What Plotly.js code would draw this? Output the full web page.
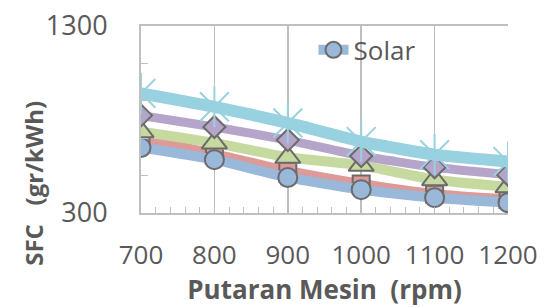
<!DOCTYPE html>
<html>
<head>
<meta charset="utf-8">
<script src="https://cdn.plot.ly/plotly-3.0.1.min.js"></script>
<style>html,body{margin:0;padding:0;background:#fff}#chart{width:552px;height:307px}</style>
</head>
<body>
<div id="chart"></div>
<script>
const rpm = [700, 800, 900, 1000, 1100, 1200];
const solar = [650, 585, 490, 425, 382, 355];
const seriesRed = [700, 615, 525, 455, 400, 372];
const seriesGreen = [735, 675, 598, 555, 478, 440];
const seriesPurple = [822, 760, 690, 605, 545, 505];
const seriesCyan = [940, 868, 782, 682, 612, 575];
const yTickVals = [300, 500, 700, 900, 1100, 1300];
const yTickText = ['300', '', '', '', '', '1300'];

const gray = '#6b6b6b';
function tr(name, y, color, lw, symbol, msize, mcolor, mline, showLegend) {
  return {
    x: rpm, y: y, name: name, type: 'scatter', mode: 'lines+markers',
    line: {color: color, width: lw, shape: 'spline', smoothing: 0.5},
    marker: {symbol: symbol, size: msize, color: mcolor, line: {color: mline, width: 2}},
    showlegend: showLegend, hoverinfo: 'skip'
  };
}
const data = [
  tr('Seri 2', seriesRed, '#dc9a98', 10, 'square', 17, '#dc9a98', gray, false),
  tr('Solar', solar, '#9ab8da', 10, 'circle', 19, '#9ab8da', gray, true),
  tr('Seri 3', seriesGreen, '#c6d99f', 10, 'triangle-up', 22, '#c6d99f', gray, false),
  tr('Seri 4', seriesPurple, '#b6a5ca', 9, 'diamond', 17, '#b6a5ca', gray, false),
  tr('Seri 5', seriesCyan, '#98d1df', 12, 'asterisk-open', 34, '#98d1df', '#98d1df', false)
];
const layout = {
  width: 552, height: 307,
  margin: {l: 141, r: 44, t: 26, b: 94},
  paper_bgcolor: '#ffffff', plot_bgcolor: '#ffffff',
  font: {family: 'Open Sans, sans-serif', color: '#595959'},
  xaxis: {
    range: [700, 1200], tickvals: rpm, showgrid: true, gridcolor: '#bfbfbf', gridwidth: 1.5,
    showline: true, linecolor: '#bfbfbf', linewidth: 2, mirror: true,
    ticks: 'inside', ticklen: 6, tickcolor: '#bfbfbf',
    minor: {dtick: 20, ticks: 'inside', ticklen: 6, tickcolor: '#bfbfbf', showgrid: false},
    tickfont: {size: 26, color: '#595959'}, ticklabelstandoff: 18,
    zeroline: false, fixedrange: true,
    title: {text: '<b>Putaran Mesin  (rpm)</b>', font: {size: 26, color: '#595959'}, standoff: 1}
  },
  yaxis: {
    range: [300, 1300], tickvals: yTickVals, ticktext: yTickText, showgrid: false,
    showline: true, linecolor: '#bfbfbf', linewidth: 2,
    ticks: 'inside', ticklen: 7, tickcolor: '#bfbfbf',
    tickfont: {size: 27, color: '#595959'}, ticklabelstandoff: 26,
    zeroline: false, fixedrange: true
  },
  legend: {x: 0.47, y: 0.872, xanchor: 'left', yanchor: 'middle', bgcolor: 'rgba(0,0,0,0)',
    font: {size: 26, color: '#595959'}, itemwidth: 30},
  annotations: [{
    text: '<b>SFC   (gr/kWh)</b>', textangle: -90, xref: 'paper', yref: 'paper',
    x: -0.295, y: 0.16, xanchor: 'center', yanchor: 'middle', showarrow: false,
    font: {size: 24, color: '#595959'}
  }],
  showlegend: true
};
Plotly.newPlot('chart', data, layout, {displayModeBar: false, staticPlot: true});
</script>
</body>
</html>
